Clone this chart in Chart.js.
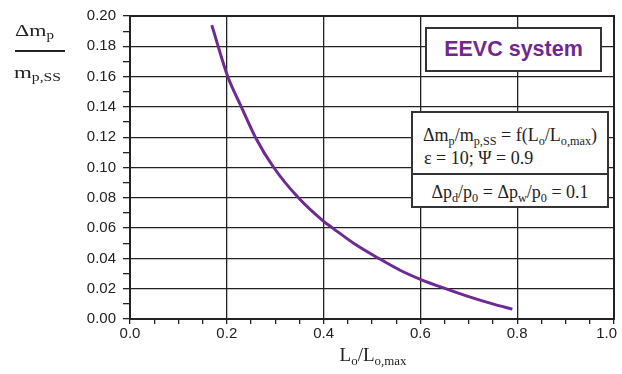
<!DOCTYPE html>
<html>
<head>
<meta charset="utf-8">
<script src="https://cdn.jsdelivr.net/npm/chart.js@4.4.1/dist/chart.umd.min.js"></script>
<style>
  html, body { margin: 0; padding: 0; background: #fff; }
  #wrap { position: relative; width: 622px; height: 374px; }
  .serif { font-family: "Liberation Serif", "Times New Roman", serif; color: #222; position: absolute; white-space: nowrap; line-height: 20px; }
  .box { position: absolute; border: 2px solid #333; background: #fff; box-sizing: border-box; }
  sub { font-size: 68%; vertical-align: -0.3em; line-height: 0; }
</style>
</head>
<body>
<div id="wrap">
  <canvas id="chart" width="622" height="374"></canvas>

  <!-- etiqueta eje Y (fracción) -->
  <div class="serif" style="left:15px; top:21px; font-size:17px; transform-origin:0 0; transform:scaleX(1.3);">&Delta;m<sub>p</sub></div>
  <div style="position:absolute; left:15px; top:50px; width:50px; height:2px; background:#222;"></div>
  <div class="serif" style="left:14px; top:63px; font-size:17px; transform-origin:0 0; transform:scaleX(1.35);">m<sub>p,SS</sub></div>

  <!-- etiqueta eje X -->
  <div class="serif" style="left:323px; top:345px; font-size:19px; width:100px; text-align:center;">L<sub>o</sub>/L<sub>o,max</sub></div>

  <!-- cajas de texto -->
  <div class="box" style="left:425px; top:27px; width:177px; height:45px; font-family:'Liberation Sans', Arial, sans-serif; font-weight:bold; font-size:21.5px; color:#70288f; text-align:center; line-height:41px;">EEVC system</div>
  <div class="box" style="left:411px; top:111px; width:198px; height:64px;"></div>
  <div class="box" style="left:411px; top:173px; width:198px; height:35px;"></div>
  <div class="serif" style="left:411px; top:125px; width:198px; text-align:center; font-size:18px;">&Delta;m<sub>p</sub>/m<sub>p,SS</sub> = f(L<sub>o</sub>/L<sub>o,max</sub>)</div>
  <div class="serif" style="left:424px; top:148px; font-size:18px;">&epsilon; = 10; &Psi; = 0.9</div>
  <div class="serif" style="left:411px; top:182px; width:198px; text-align:center; font-size:18px;">&Delta;p<sub>d</sub>/p<sub>0</sub> = &Delta;p<sub>w</sub>/p<sub>0</sub> = 0.1</div>
</div>

<script>
// Valores
const xLo = [0.169, 0.202, 0.230, 0.259, 0.297, 0.348, 0.400, 0.419, 0.462, 0.514, 0.558, 0.600, 0.652, 0.703, 0.751, 0.790];
const yMp = [0.194, 0.160, 0.140, 0.120, 0.100, 0.080, 0.0645, 0.060, 0.050, 0.040, 0.0322, 0.0262, 0.020, 0.0144, 0.0098, 0.0065];

const xTicksMajor = [0.0, 0.2, 0.4, 0.6, 0.8, 1.0];
const yTicksMajor = [0.00, 0.02, 0.04, 0.06, 0.08, 0.10, 0.12, 0.14, 0.16, 0.18, 0.20];

function esMayor(v, lista) {
  return lista.some(m => Math.abs(m - v) < 1e-6);
}

// Marco completo del área del gráfico + etiquetas del eje X (sin recortar el 1.0)
const marco = {
  id: 'marco',
  afterDraw(chart) {
    const { ctx, chartArea: a } = chart;
    ctx.save();
    ctx.strokeStyle = '#222';
    ctx.lineWidth = 2;
    ctx.strokeRect(a.left, a.top, a.right - a.left, a.bottom - a.top);

    const sx = chart.scales.x;
    ctx.font = '15px "Liberation Sans", Arial, sans-serif';
    ctx.fillStyle = '#222';
    ctx.textAlign = 'center';
    ctx.textBaseline = 'middle';
    xTicksMajor.forEach(v => {
      const txt = v.toFixed(1);
      const w = ctx.measureText(txt).width;
      let px = sx.getPixelForValue(v);
      px = Math.min(px, chart.width - 5 - w / 2);
      ctx.fillText(txt, px, a.bottom + 15);
    });
    ctx.restore();
  }
};

new Chart(document.getElementById('chart'), {
  type: 'scatter',
  data: {
    datasets: [{
      data: xLo.map((x, i) => ({ x: x, y: yMp[i] })),
      showLine: true,
      borderColor: '#6e2a91',
      borderWidth: 3,
      pointRadius: 0,
      cubicInterpolationMode: 'monotone',
      fill: false
    }]
  },
  options: {
    responsive: false,
    animation: false,
    layout: { padding: { top: 16, right: 8, left: 0, bottom: 0 } },
    plugins: { legend: { display: false }, tooltip: { enabled: false } },
    scales: {
      x: {
        type: 'linear',
        min: 0, max: 1,
        afterFit(s) { s.height = 55; s.paddingLeft = 0; s.paddingRight = 0; },
        afterBuildTicks(s) {
          s.ticks = [];
          for (let i = 0; i <= 20; i++) s.ticks.push({ value: i * 0.05 });
        },
        ticks: { display: false },
        grid: {
          tickLength: 5,
          color: c => c.tick && esMayor(c.tick.value, xTicksMajor) ? '#222' : 'rgba(0,0,0,0)',
          tickColor: '#222',
          lineWidth: 1.3
        },
        border: { color: '#222', width: 2 }
      },
      y: {
        type: 'linear',
        min: 0, max: 0.2,
        afterFit(s) { s.width = 130; s.paddingTop = 0; s.paddingBottom = 0; },
        afterBuildTicks(s) {
          s.ticks = [];
          for (let i = 0; i <= 20; i++) s.ticks.push({ value: i * 0.01 });
        },
        ticks: {
          autoSkip: false, padding: 7,
          color: '#222',
          font: { family: 'Liberation Sans', size: 15 },
          callback: v => esMayor(v, yTicksMajor) ? v.toFixed(2) : ''
        },
        grid: {
          tickLength: 7,
          color: c => c.tick && esMayor(c.tick.value, yTicksMajor) ? '#222' : 'rgba(0,0,0,0)',
          tickColor: '#222',
          lineWidth: 1.3
        },
        border: { color: '#222', width: 2 }
      }
    }
  },
  plugins: [marco]
});
</script>
</body>
</html>
